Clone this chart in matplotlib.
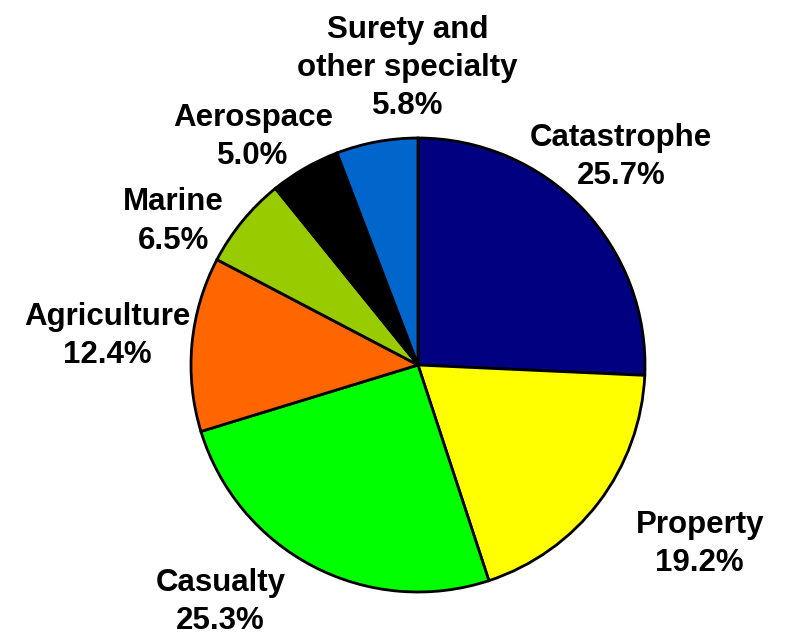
import numpy as np
import matplotlib.pyplot as plt

plt.rcParams['font.family'] = ['Liberation Sans', 'DejaVu Sans']

categories = ["Catastrophe", "Property", "Casualty", "Agriculture",
              "Marine", "Aerospace", "Surety and\nother specialty"]
shares = [25.7, 19.2, 25.3, 12.4, 6.5, 5.0, 5.8]
colors = ["#000080", "#FFFF00", "#00FF00", "#FF6600",
          "#99CC00", "#000000", "#0066CC"]
# label placement: (distance from centre in radii, angle tweak in degrees)
label_pos = [(1.28, 2), (1.47, 4.8), (1.36, -12.4), (1.375, 0),
             (1.25, 9), (1.24, 6), (1.31, -8.4)]

W, H = 787, 636
fig = plt.figure(figsize=(W / 100, H / 100), dpi=100)
ax = fig.add_axes([0, 0, 1, 1])

cx, cy, r = 418, H - 365, 227
wedges, _ = ax.pie(shares, colors=colors, startangle=90, counterclock=False,
                   center=(cx, cy), radius=r, frame=True,
                   wedgeprops=dict(edgecolor="black", linewidth=2))
ax.set_xlim(0, W)
ax.set_ylim(0, H)
ax.set_aspect("equal")
ax.axis("off")

for w, name, val, (d, tweak) in zip(wedges, categories, shares, label_pos):
    ang = np.deg2rad((w.theta1 + w.theta2) / 2 + tweak)
    x = cx + d * r * np.cos(ang)
    y = cy + d * r * np.sin(ang)
    ax.text(x, y, f"{name}\n{val:.1f}%", ha="center", va="center",
            fontsize=22.5, fontweight="bold", linespacing=1.36)

fig.savefig("out.png", dpi=100)
